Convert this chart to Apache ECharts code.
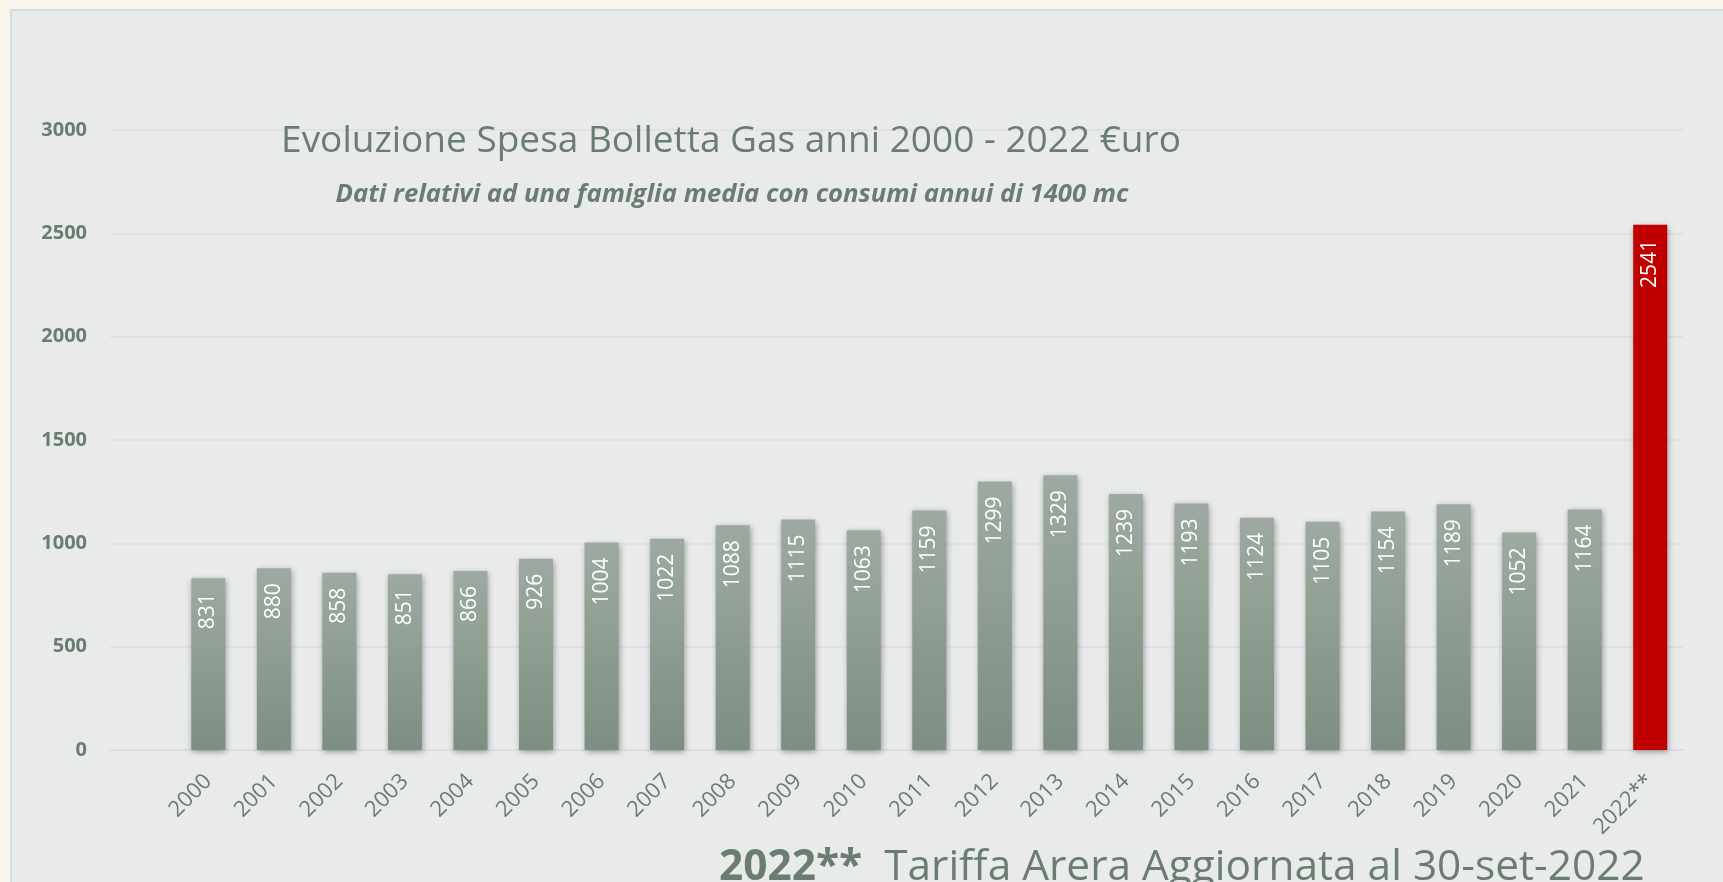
<!DOCTYPE html>
<html>
<head>
<meta charset="utf-8">
<title>Evoluzione Spesa Bolletta Gas</title>
<script src="https://cdn.jsdelivr.net/npm/echarts@6/dist/echarts.min.js"></script>
<style>
    html, body { margin: 0; padding: 0; background: #f7f5ea; }
    #chart { width: 1723px; height: 882px; }
</style>
</head>
<body>
<div id="chart"></div>
<script>
// Data
// ------------------------------

var years = ['2000', '2001', '2002', '2003', '2004', '2005', '2006', '2007', '2008', '2009', '2010', '2011',
    '2012', '2013', '2014', '2015', '2016', '2017', '2018', '2019', '2020', '2021', '2022**'];
var spesa = [831, 880, 858, 851, 866, 926, 1004, 1022, 1088, 1115, 1063, 1159,
    1299, 1329, 1239, 1193, 1124, 1105, 1154, 1189, 1052, 1164, 2541];
var highlightYear = '2022**';
var yTicks = { min: 0, max: 3000, interval: 500 };


// Chart
// ------------------------------

var textColor = '#6a7d70';
var gridColor = '#dcdde3';

var barGradient = new echarts.graphic.LinearGradient(0, 0, 0, 1, [
    { offset: 0, color: '#9eaaa1' },
    { offset: 1, color: '#7d8e82' }
]);

// Excel leaves an empty slot before the first year
var categories = [''].concat(years);
var barData = [null].concat(spesa.map(function(v, i) {
    if (years[i] === highlightYear) {
        return { value: v, itemStyle: { color: '#c00000' } };
    }
    return v;
}));

var chart = echarts.init(document.getElementById('chart'), null, { renderer: 'canvas' });

chart.setOption({
    backgroundColor: '#f7f5ea',
    textStyle: { fontFamily: "'Open Sans', sans-serif" },
    animation: false,

    graphic: [
        {
            type: 'rect',
            z: -10,
            shape: { x: 11, y: 10, width: 1800, height: 1000 },
            style: { fill: '#e9ebea', stroke: '#dadbe1', lineWidth: 2 }
        }
    ],

    title: [
        {
            text: 'Evoluzione Spesa Bolletta Gas anni 2000 - 2022 €uro',
            left: 726,
            top: 118,
            textAlign: 'center',
            textStyle: { fontSize: 37, fontWeight: 'normal', color: textColor }
        },
        {
            text: 'Dati relativi ad una famiglia media con consumi annui di 1400 mc',
            left: 727,
            top: 177,
            textAlign: 'center',
            textStyle: { fontSize: 25.7, fontWeight: 'bold', fontStyle: 'italic', color: textColor }
        },
        {
            text: '{b|2022**}{r|  Tariffa Arera Aggiornata al 30-set-2022}',
            left: 714,
            top: 842,
            textStyle: {
                fontWeight: 'normal',
                rich: {
                    b: { fontSize: 42.4, fontWeight: 'bold', color: textColor },
                    r: { fontSize: 42.4, fontWeight: 'normal', color: textColor }
                }
            }
        }
    ],

    grid: { left: 110, right: 40, top: 130, bottom: 132, containLabel: false },

    xAxis: {
        type: 'category',
        data: categories,
        axisTick: { show: false },
        axisLine: { lineStyle: { color: gridColor, width: 2 } },
        axisLabel: {
            rotate: 45,
            margin: 28,
            interval: 0,
            fontSize: 22,
            color: textColor
        }
    },

    yAxis: {
        type: 'value',
        min: yTicks.min,
        max: yTicks.max,
        interval: yTicks.interval,
        axisLine: { show: false },
        axisTick: { show: false },
        splitLine: { lineStyle: { color: gridColor, width: 1.5 } },
        axisLabel: {
            margin: 23,
            fontSize: 20,
            fontWeight: 'bold',
            color: textColor,
            formatter: function(v) { return String(v); }
        }
    },

    series: [
        {
            type: 'bar',
            data: barData,
            barWidth: 34,
            itemStyle: {
                color: barGradient,
                shadowBlur: 6,
                shadowColor: 'rgba(0, 0, 0, 0.35)',
                shadowOffsetX: 1,
                shadowOffsetY: 2
            },
            label: {
                show: true,
                position: 'insideTop',
                distance: 15,
                rotate: 90,
                align: 'right',
                verticalAlign: 'middle',
                fontSize: 21,
                color: '#ffffff'
            }
        }
    ]
});
</script>
</body>
</html>
